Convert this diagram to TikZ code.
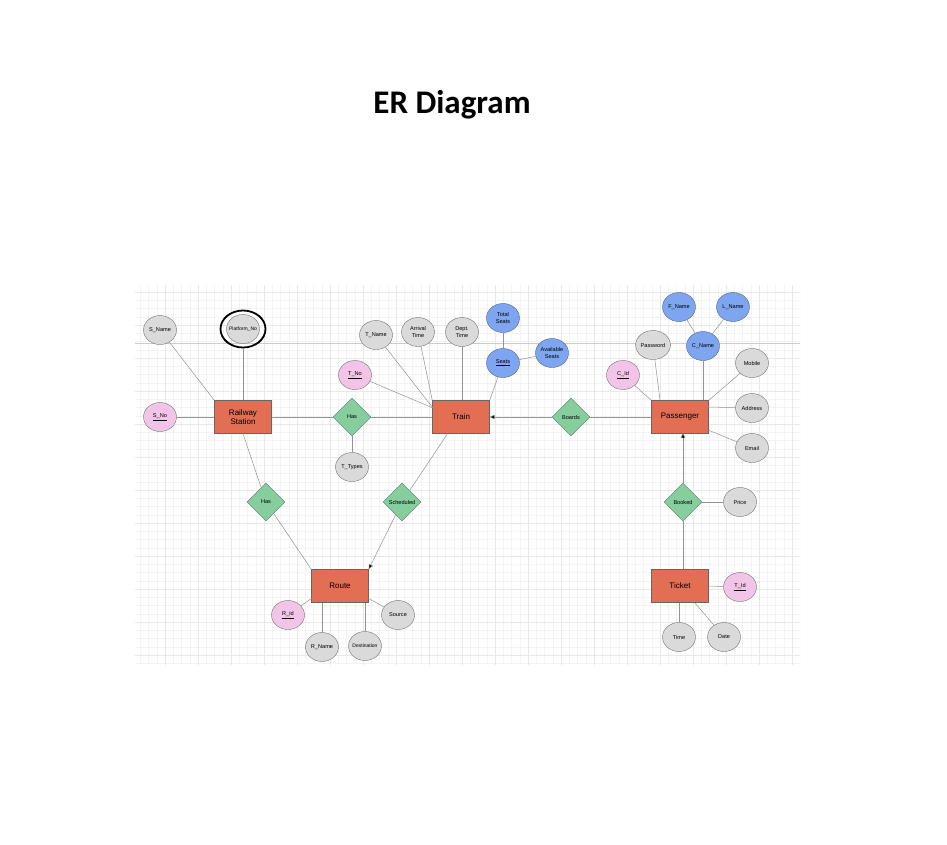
\documentclass[tikz,border=0pt]{standalone}
\usepackage{fontspec}
\setmainfont{Liberation Sans}
\newfontfamily\titlefont{Carlito}
\usetikzlibrary{shapes.geometric,arrows.meta,calc}
\definecolor{entfill}{RGB}{226,110,84}
\definecolor{attrgray}{RGB}{218,218,218}
\definecolor{attrpink}{RGB}{242,196,232}
\definecolor{attrblue}{RGB}{126,166,240}
\definecolor{relgreen}{RGB}{134,206,158}
\definecolor{gridc}{RGB}{243,243,243}
\definecolor{gridmaj}{RGB}{232,232,232}
\tikzset{
  entity/.style={rectangle, draw=black!60, fill=entfill, minimum width=57pt, minimum height=33pt, inner sep=0pt, align=center, font=\fontsize{8}{9}\selectfont},
  attr/.style={ellipse, draw=gray!90!black, fill=attrgray, minimum width=33pt, minimum height=29pt, inner sep=0pt, align=center, font=\fontsize{5.6}{6.6}\selectfont},
  keyattr/.style={attr, fill=attrpink},
  compattr/.style={attr, fill=attrblue, draw=attrblue!60!black},
  narrow/.style={inner xsep=-2.5pt, font=\fontsize{5}{6}\selectfont},
  rel/.style={diamond, draw=relgreen!60!black, fill=relgreen, minimum width=38pt, minimum height=38pt, inner sep=0pt, font=\fontsize{5.6}{6.6}\selectfont},
  conn/.style={draw=gray!85, line width=0.5pt},
  arr/.style={conn, -{Triangle[length=5pt,width=4.5pt,fill=black]}},
  gridminor/.style={draw=gridc, line width=0.4pt},
  gridmajor/.style={draw=gridmaj, line width=0.6pt}
}
\begin{document}
\begin{tikzpicture}[x=1pt,y=-1pt]
\useasboundingbox (0,0) rectangle (947,844);
\fill[white] (0,0) rectangle (947,844);
% grid
\begin{scope}
\clip (135,285) rectangle (800,665);
\foreach \i in {0,...,82} \draw[gridminor] ({132+8.25*\i},285) -- ({132+8.25*\i},665);
\foreach \i in {0,...,47} \draw[gridminor] (135,{283.75+8.25*\i}) -- (800,{283.75+8.25*\i});
\foreach \i in {0,...,20} \draw[gridmajor] ({132+33*\i},285) -- ({132+33*\i},665);
\foreach \i in {0,...,12} \draw[gridmajor] (135,{292+33*\i}) -- (800,{292+33*\i});
\draw[draw=gray!40, line width=0.6pt] (135,343) -- (800,343);
\end{scope}

% title
\node[font={\titlefont\bfseries\fontsize{33}{39}\selectfont}] (title) at (452,105) {ER Diagram};

% entities
\node[entity] (rs) at (243,417) {Railway\\Station};
\node[entity] (train) at (461,417) {Train};
\node[entity] (pass) at (680,417) {Passenger};
\node[entity] (route) at (340,586) {Route};
\node[entity] (ticket) at (680,586) {Ticket};

% relationships
\node[rel] (has1) at (352,417) {Has};
\node[rel] (boards) at (571,417) {Boards};
\node[rel] (has2) at (266,502) {Has};
\node[rel] (sched) at (402,502) {Scheduled};
\node[rel] (booked) at (683,502) {Booked};

% railway station attributes
\node[attr] (sname) at (160,330) {S\_Name};
\node[ellipse, draw=black, line width=1.8pt, minimum width=45pt, minimum height=37pt, inner sep=0pt] (platring) at (243,329) {};
\node[attr, narrow] (plat) at (243,329) {Platform\_No};
\node[keyattr] (sno) at (160,417) {\underline{S\_No}};

% train attributes
\node[keyattr] (tno) at (355,375) {\underline{T\_No}};
\node[attr] (tname) at (376,335) {T\_Name};
\node[attr] (arr) at (418,332) {Arrival\\Time};
\node[attr] (dept) at (462,332) {Dept.\\Time};
\node[compattr] (total) at (503,318) {Total\\Seats};
\node[compattr] (seats) at (503,363) {\underline{Seats}};
\node[compattr] (avail) at (552,353) {Available\\Seats};
\node[attr] (ttypes) at (352,467) {T\_Types};

% passenger attributes
\node[compattr] (fname) at (679,307) {F\_Name};
\node[compattr] (lname) at (733,307) {L\_Name};
\node[attr] (pwd) at (653,345) {Password};
\node[compattr] (cname) at (703,346) {C\_Name};
\node[keyattr] (cid) at (623,375) {\underline{C\_Id}};
\node[attr] (mobile) at (752,363) {Mobile};
\node[attr] (addr) at (752,408) {Address};
\node[attr] (email) at (752,448) {Email};

% route attributes
\node[keyattr] (rid) at (288,615) {\underline{R\_id}};
\node[attr] (rname) at (322,647) {R\_Name};
\node[attr, narrow] (dest) at (365,646) {Destination};
\node[attr] (src) at (398,615) {Source};

% ticket attributes
\node[attr] (price) at (740,502) {Price};
\node[keyattr] (tid) at (740,587) {\underline{T\_Id}};
\node[attr] (time) at (679,637) {Time};
\node[attr] (date) at (724,637) {Date};

% helper coordinates on entity borders
\coordinate (tjoin) at (433,408);
\coordinate (pwdtop) at (660,400);
\coordinate (cnametop) at (703,400);
\coordinate (addrjoin) at (708,407);
\coordinate (emailjoin) at (708,430);
\coordinate (passbot) at (683,433);
\coordinate (tickettop) at (683,569);
\coordinate (ticketbotl) at (679,603);
\coordinate (ticketbotr) at (695,603);
\coordinate (trainbot) at (448,433);
\coordinate (routebl) at (312,598);
\coordinate (routebr) at (368,598);
\coordinate (routeb1) at (322,603);
\coordinate (routeb2) at (365,603);

% railway station connectors
\draw[conn] (sname) -- (rs.north west);
\draw[conn] (platring) -- (rs.north);
\draw[conn] (sno) -- (rs.west);
\draw[conn] (rs.east) -- (has1.west);
\draw[conn] (has1.east) -- (train.west);
\draw[conn] (has1) -- (ttypes);
\draw[conn] (rs.south) -- (has2);
\draw[conn] (has2) -- (route.north west);

% train connectors
\draw[conn] (tno) -- (tjoin);
\draw[conn] (tname) -- (tjoin);
\draw[conn] (arr) -- (train.north west);
\draw[conn] (dept) -- (dept |- train.north);
\draw[conn] (seats) -- (train.north east);
\draw[conn] (total) -- (seats);
\draw[conn] (avail) -- (seats);
\draw[arr] (boards.west) -- (train.east);
\draw[conn] (trainbot) -- (sched);
\draw[arr] (sched) -- (route.north east);

% passenger connectors
\draw[conn] (pass.west) -- (boards.east);
\draw[conn] (cid) -- (pass.north west);
\draw[conn] (pwd) -- (pwdtop);
\draw[conn] (cname) -- (cnametop);
\draw[conn] (fname) -- (cname);
\draw[conn] (lname) -- (cname);
\draw[conn] (mobile) -- (pass.north east);
\draw[conn] (addrjoin) -- (addr);
\draw[conn] (emailjoin) -- (email);
\draw[arr] (booked.north) -- (passbot);

% ticket connectors
\draw[conn] (tickettop) -- (booked.south);
\draw[conn] (booked.east) -- (price);
\draw[conn] (ticket.east) -- (tid);
\draw[conn] (ticketbotl) -- (time);
\draw[conn] (ticketbotr) -- (date);

% route connectors
\draw[conn] (routebl) -- (rid);
\draw[conn] (routeb1) -- (rname);
\draw[conn] (routeb2) -- (dest);
\draw[conn] (routebr) -- (src);
\end{tikzpicture}
\end{document}
